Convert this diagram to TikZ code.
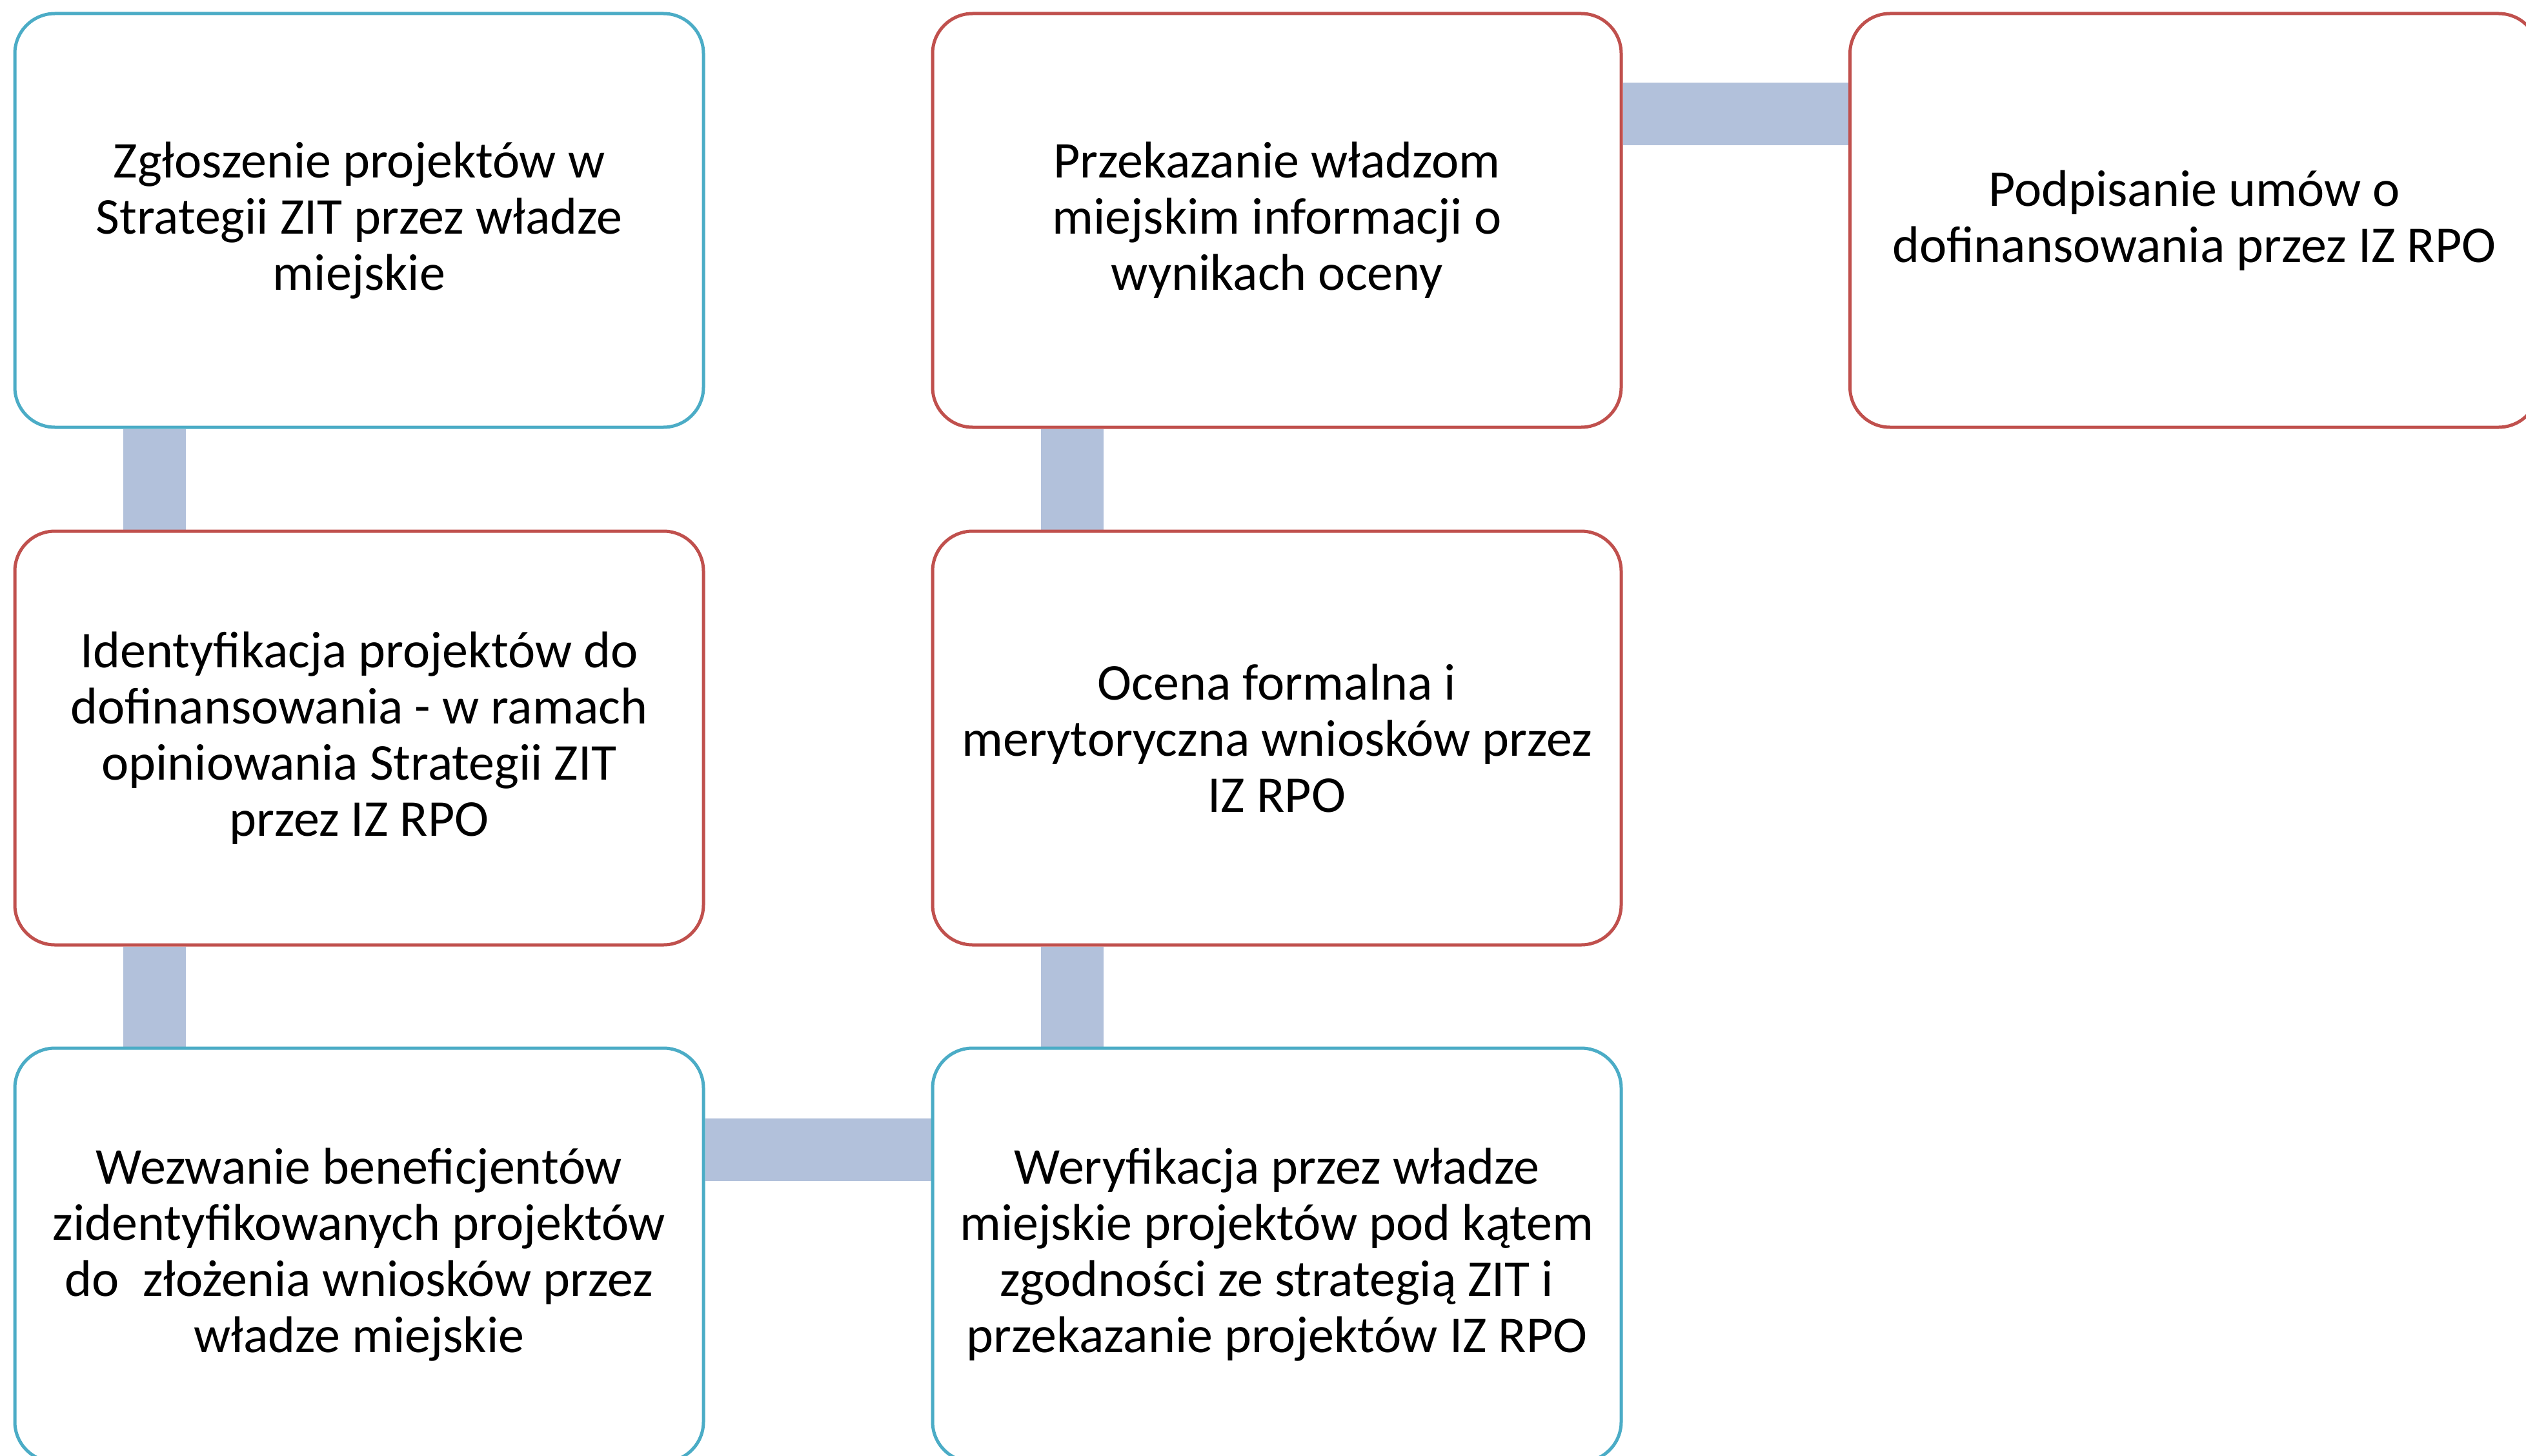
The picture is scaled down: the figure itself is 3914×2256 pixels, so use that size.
\documentclass[tikz,border=0pt]{standalone}
\usepackage{fontspec}
\setmainfont{Carlito}
\usetikzlibrary{backgrounds}
\definecolor{boxblue}{RGB}{75,172,198}
\definecolor{boxred}{RGB}{192,80,77}
\definecolor{barcol}{RGB}{178,193,219}
\begin{document}
\begin{tikzpicture}[x=1pt,y=-1pt,
  stepbox/.style={draw, line width=5pt, fill=white, rounded corners=62pt,
    minimum width=1067pt, minimum height=641pt, align=center, inner sep=0pt,
    font=\fontsize{80pt}{87pt}\selectfont, text=black},
  bluebox/.style={stepbox, draw=boxblue},
  redbox/.style={stepbox, draw=boxred},
  bar/.style={draw=barcol, line width=97pt}]
\useasboundingbox (0,0) rectangle (3914,2256);
% nodes
\node[bluebox] (b1) at (556.5,341.5) {Zgłoszenie projektów w\\Strategii ZIT przez władze\\miejskie};
\node[redbox]  (b2) at (556.5,1143.5) {Identyfikacja projektów do\\dofinansowania - w ramach\\opiniowania Strategii ZIT\\przez IZ RPO};
\node[bluebox] (b3) at (556.5,1944.5) {Wezwanie beneficjentów\\zidentyfikowanych projektów\\do\ \ złożenia wniosków przez\\władze miejskie};
\node[bluebox] (b4) at (1978.5,1944.5) {Weryfikacja przez władze\\miejskie projektów pod kątem\\zgodności ze strategią ZIT i\\przekazanie projektów IZ RPO};
\node[redbox]  (b5) at (1978.5,1143.5) {Ocena formalna i\\merytoryczna wniosków przez\\IZ RPO};
\node[redbox]  (b6) at (1978.5,341.5) {Przekazanie władzom\\miejskim informacji o\\wynikach oceny};
\node[redbox]  (b7) at (3400,341.5) {Podpisanie umów o\\dofinansowania przez IZ RPO};
% connectors behind the boxes
\begin{scope}[on background layer]
\draw[bar] ([xshift=219pt]b1.south west) -- ([xshift=219pt]b2.north west);
\draw[bar] ([xshift=219pt]b2.south west) -- ([xshift=219pt]b3.north west);
\draw[bar] ([yshift=-160pt]b3.north east) -- ([yshift=-160pt]b4.north west);
\draw[bar] ([xshift=219pt]b4.north west) -- ([xshift=219pt]b5.south west);
\draw[bar] ([xshift=219pt]b5.north west) -- ([xshift=219pt]b6.south west);
\draw[bar] ([yshift=-158pt]b6.north east) -- ([yshift=-158pt]b7.north west);
\end{scope}
\end{tikzpicture}
\end{document}
